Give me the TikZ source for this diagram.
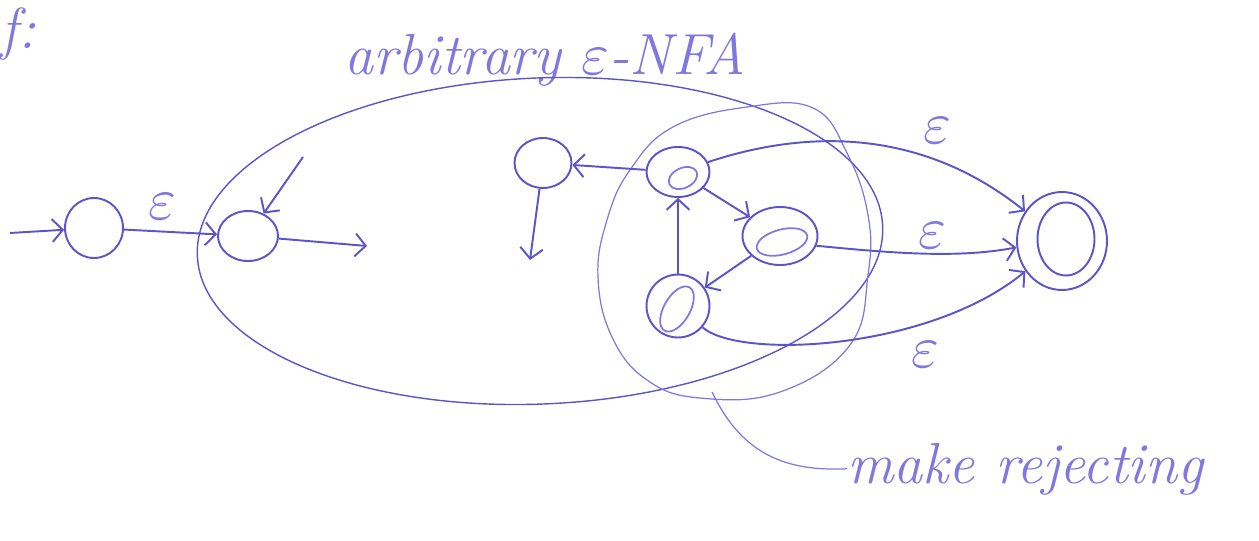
\documentclass[tikz,border=0pt]{standalone}
\usetikzlibrary{shapes.geometric,arrows.meta}
\definecolor{ink}{RGB}{92,84,200}
\definecolor{inklight}{RGB}{128,120,222}
\newcommand{\bigeps}{\scalebox{3.4}{\normalsize$\varepsilon$}}
\begin{document}
\begin{tikzpicture}[x=0.02cm,y=-0.02cm,
  state/.style={ellipse, draw=ink, line width=1.1pt, inner sep=0pt},
  innerst/.style={ellipse, draw=inklight, line width=1pt, inner sep=0pt},
  arr/.style={draw=ink, line width=1.1pt, -{Straight Barb[length=6pt,width=13pt]}},
  region/.style={draw=ink, line width=0.8pt},
  faint/.style={draw=inklight, line width=0.7pt},
  lbl/.style={text=inklight, font=\fontsize{33}{38}\selectfont\itshape, inner sep=0pt},
  eps/.style={text=inklight, inner sep=0pt}]
\useasboundingbox (0,0) rectangle (1259,541);

% texts
\node[lbl] (f) at (18,34) {f:};
\node[lbl] (title) at (545,60) {arbitrary \bigeps-NFA};
\node[lbl, anchor=base west] (mr) at (847,483) {make rejecting};

% regions
\draw[region, rotate around={2.5:(540,241)}] (540,241) ellipse [x radius=343, y radius=163];
\draw[faint] plot[smooth cycle, tension=0.7] coordinates {
  (673,127) (747,107) (813,108) (847,153) (868,215) (868,275) (850,345)
  (780,392) (700,398) (647,380) (612,337) (598,277) (607,220) (630,170)};

% states
\node[state, minimum width=1.16cm, minimum height=1.2cm] (q0) at (94,228) {};
\node[state, minimum width=1.2cm, minimum height=1.0cm] (q1) at (248,236) {};
\node[state, minimum width=1.14cm, minimum height=1.0cm] (q2) at (543,163) {};
\node[state, minimum width=1.26cm, minimum height=1.0cm] (q3) at (678,172) {};
\node[state, minimum width=1.5cm, minimum height=1.16cm] (q4) at (780,236) {};
\node[state, minimum width=1.26cm, minimum height=1.26cm] (q5) at (678,306) {};
\node[state, minimum width=1.8cm, minimum height=1.96cm] (qf) at (1062,241) {};
\node[state, minimum width=1.14cm, minimum height=1.46cm] (qfi) at (1066,239) {};

% inner marks of formerly accepting states
\node[innerst, minimum width=0.6cm, minimum height=0.4cm, rotate=25] (q3i) at (683,178) {};
\node[innerst, minimum width=1.04cm, minimum height=0.5cm, rotate=15] (q4i) at (782,242) {};
\node[innerst, minimum width=0.52cm, minimum height=1.0cm, rotate=-30] (q5i) at (677,309) {};

% free ends
\coordinate (s) at (10,233);
\coordinate (q1in) at (303,157);
\coordinate (q1out) at (367,246);
\coordinate (q2out) at (530,260);
\coordinate (mrp) at (712,392);

% connectors
\draw[arr] (s) -- (q0);
\draw[arr] (q0) -- (q1);
\draw[arr] (q1in) -- (q1);
\draw[arr] (q1) -- (q1out);
\draw[arr] (q2) -- (q2out);
\draw[arr] (q3) -- (q2);
\draw[arr] (q3) -- (q4);
\draw[arr] (q4) -- (q5);
\draw[arr] (q5) -- (q3);
\draw[arr] (q3) .. controls (820,125) and (930,135) .. (qf);
\draw[arr] (q4.345) .. controls (900,254) and (960,258) .. (qf.188);
\draw[arr] (q5) .. controls (740,360) and (930,350) .. (qf);
\draw[faint] (mrp) .. controls (740,450) and (780,472) .. (mr.west);

% epsilon labels
\node[eps] (e0) at (162,207) {\bigeps};
\node[eps] (e1) at (937,131) {\bigeps};
\node[eps] (e2) at (932,236) {\bigeps};
\node[eps] (e3) at (925,355) {\bigeps};
\end{tikzpicture}
\end{document}
